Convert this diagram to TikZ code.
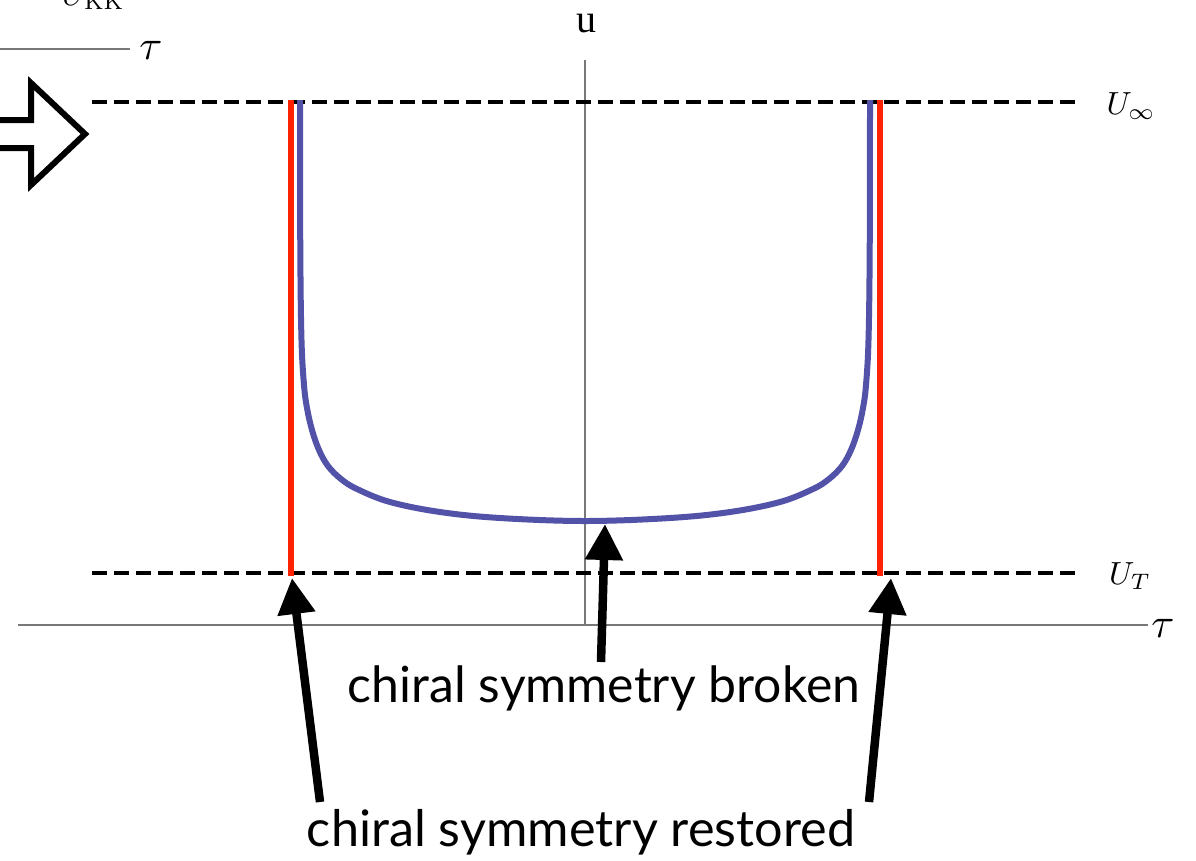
\documentclass[tikz,border=0pt]{standalone}
\usepackage{fontspec}
\newfontfamily\labelfont{Lato}
\newfontfamily\timesfont{Liberation Serif}
\usetikzlibrary{arrows.meta}
\definecolor{axisgray}{RGB}{120,120,120}
\definecolor{flavred}{RGB}{255,34,0}
\definecolor{branebl}{RGB}{82,82,168}
\tikzset{
  axisline/.style={draw=axisgray,line width=1.3pt},
  horizon/.style={draw=black,line width=4pt,dash pattern=on 15pt off 7pt},
  redbrane/.style={draw=flavred,line width=6pt},
  bluebrane/.style={draw=branebl,line width=6pt,line join=round},
  pointer/.style={draw=black,line width=8.5pt,-{Triangle[length=36pt,width=36pt]}},
  hollow/.style={draw=black,line width=6pt,fill=white,line join=miter},
  mathlbl/.style={inner sep=0pt},
  axislbl/.style={inner sep=0pt,font=\timesfont\fontsize{40}{46}\selectfont},
  textlbl/.style={inner sep=0pt,font=\labelfont\fontsize{46}{54}\selectfont}
}
\begin{document}
\begin{tikzpicture}[x=1pt,y=-1pt]
\useasboundingbox (0,0) rectangle (1196,860);
\clip (0,0) rectangle (1196,860);
% top-left cropped axis
\draw[axisline] (0,49) -- (130,49);
\node[mathlbl] (tau0) at (151,50) {\scalebox{4.2}{$\tau$}};
\node[mathlbl,anchor=base west] (ukk) at (62,5) {\scalebox{3.2}{$U_{\rm KK}$}};
% hollow arrow
\draw[hollow] (-10,120) -- (31,120) -- (31,83) -- (85,134) -- (31,185) -- (31,148) -- (-10,148);
% axes
\coordinate (utop) at (585,60);
\coordinate (ubot) at (585,625);
\coordinate (tl) at (18,625);
\coordinate (tr) at (1148,625);
\draw[axisline] (ubot) -- (utop);
\draw[axisline] (tl) -- (tr);
\node[axislbl] (ulbl) at (586,24) {u};
\node[mathlbl] (taulbl) at (1163,628) {\scalebox{4.2}{$\tau$}};
% horizons
\coordinate (h1l) at (92,102); \coordinate (h1r) at (1080,102);
\coordinate (h2l) at (92,573); \coordinate (h2r) at (1080,573);
\draw[horizon] (h1l) -- (h1r);
\draw[horizon] (h2l) -- (h2r);
\node[mathlbl] (uinf) at (1131,106) {\scalebox{3.2}{$U_\infty$}};
\node[mathlbl] (ut) at (1130,576) {\scalebox{3.2}{$U_T$}};
% red branes
\coordinate (rlt) at (291,100); \coordinate (rlb) at (291,576);
\coordinate (rrt) at (880,100); \coordinate (rrb) at (880,576);
\draw[redbrane] (rlt) -- (rlb);
\draw[redbrane] (rrt) -- (rrb);
% blue brane
\draw[bluebrane] plot[smooth,tension=0.6] coordinates {
 (300,100) (300.3,250) (301.5,340) (304,385) (307,408) (312,430) (319,450) (328,466)
 (341,479) (357,489) (390,502) (440,512) (500,518) (585,521)
 (670,518) (730,512) (780,502) (813,489) (829,479) (842,466) (851,450) (858,430)
 (863,408) (866,385) (868.5,340) (869.7,250) (870,100)};
% labels
\node[textlbl] (broken) at (604,688) {\resizebox{512pt}{!}{chiral symmetry broken}};
\node[textlbl] (restored) at (581,832) {\resizebox{548pt}{!}{chiral symmetry restored}};
\coordinate (lt) at (320,802); \coordinate (lh) at (292,578);
\coordinate (mt) at (601,662); \coordinate (mh) at (605,524);
\coordinate (rt) at (869,802); \coordinate (rh) at (891,578);
\draw[pointer] (lt) -- (lh);
\draw[pointer] (mt) -- (mh);
\draw[pointer] (rt) -- (rh);
\end{tikzpicture}
\end{document}
